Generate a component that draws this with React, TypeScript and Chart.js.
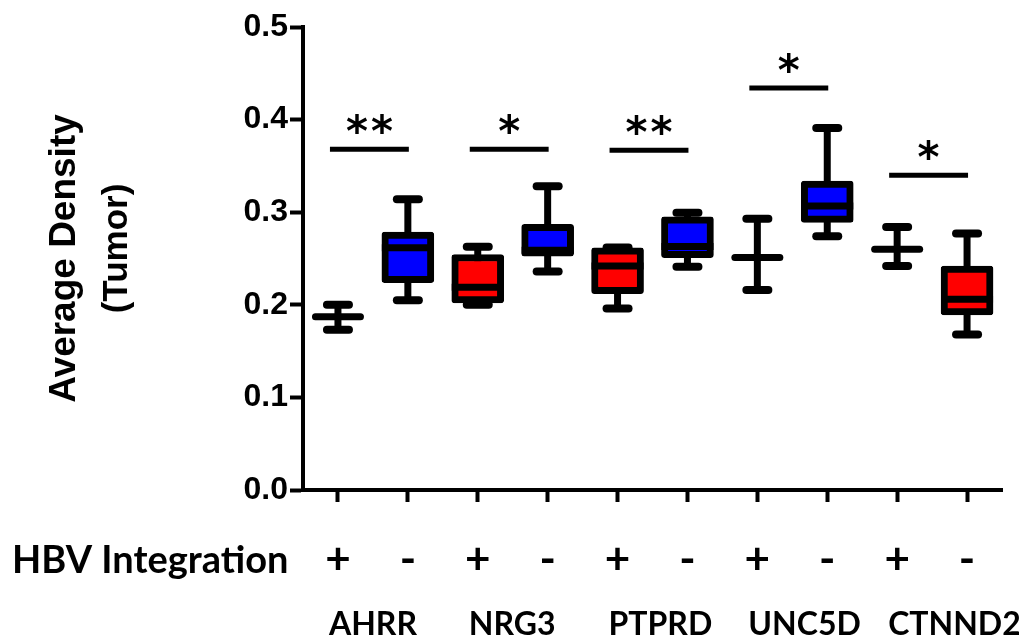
import React, { useEffect, useRef } from 'react';
import { Chart, registerables } from 'chart.js';

Chart.register(...registerables);

const genes = ['AHRR', 'NRG3', 'PTPRD', 'UNC5D', 'CTNND2'];
const integrationSigns = ['+', '-', '+', '-', '+', '-', '+', '-', '+', '-'];
const categories = ['AHRR +', 'AHRR -', 'NRG3 +', 'NRG3 -', 'PTPRD +', 'PTPRD -', 'UNC5D +', 'UNC5D -', 'CTNND2 +', 'CTNND2 -'];

const whiskerMin = [0.173, 0.205, 0.200, 0.236, 0.196, 0.241, 0.216, 0.274, 0.242, 0.168];
const boxQ1 = [0.187, 0.224, 0.202, 0.2525, 0.212, 0.251, 0.251, 0.289, 0.260, 0.189];
const medians = [0.187, 0.2615, 0.219, 0.259, 0.242, 0.263, 0.251, 0.3066, 0.260, 0.206];
const boxQ3 = [0.187, 0.2785, 0.2543, 0.2868, 0.2615, 0.2951, 0.251, 0.3337, 0.260, 0.2417];
const whiskerMax = [0.200, 0.314, 0.2626, 0.328, 0.262, 0.2995, 0.293, 0.391, 0.284, 0.277];
const boxFill = ['#FF0000', '#0000FF', '#FF0000', '#0000FF', '#FF0000', '#0000FF', '#FF0000', '#0000FF', '#FF0000', '#FF0000'];

const sigMarks = ['**', '*', '**', '*', '*'];
const sigHeights = [0.368, 0.368, 0.367, 0.434, 0.340];

const yTicks = [0, 0.1, 0.2, 0.3, 0.4, 0.5];
const yTitleLines = ['Average Density', '(Tumor)'];
const xGroupTitle = 'HBV Integration';

const BOX_W = 52;

export default function App() {
  const ref = useRef<HTMLCanvasElement>(null);

  useEffect(() => {
    const canvas = ref.current;
    if (!canvas) return;

    const boxPlugin = {
      id: 'boxWhiskers',
      beforeDatasetsDraw(chart: any) {
        const { ctx, scales } = chart;
        const x = scales.x;
        const y = scales.y;
        ctx.save();
        ctx.strokeStyle = '#000';
        for (let i = 0; i < categories.length; i++) {
          const cx = x.getPixelForValue(i);
          const yMax = y.getPixelForValue(whiskerMax[i]);
          const yMin = y.getPixelForValue(whiskerMin[i]);
          ctx.lineWidth = 7;
          ctx.lineCap = 'butt';
          ctx.beginPath();
          ctx.moveTo(cx, yMax);
          ctx.lineTo(cx, yMin);
          ctx.stroke();
          ctx.lineWidth = 8;
          ctx.lineCap = 'round';
          for (const yy of [yMax, yMin]) {
            ctx.beginPath();
            ctx.moveTo(cx - 11, yy);
            ctx.lineTo(cx + 11, yy);
            ctx.stroke();
          }
        }
        ctx.restore();
      },
      afterDatasetsDraw(chart: any) {
        const { ctx, scales } = chart;
        const x = scales.x;
        const y = scales.y;
        ctx.save();
        ctx.strokeStyle = '#000';
        ctx.fillStyle = '#000';
        for (let i = 0; i < categories.length; i++) {
          const cx = x.getPixelForValue(i);
          const ym = y.getPixelForValue(medians[i]);
          const hasBox = boxQ1[i] !== boxQ3[i];
          ctx.lineWidth = 7;
          ctx.beginPath();
          if (hasBox) {
            ctx.lineCap = 'butt';
            ctx.moveTo(cx - BOX_W / 2, ym);
            ctx.lineTo(cx + BOX_W / 2, ym);
          } else {
            ctx.lineCap = 'round';
            ctx.moveTo(cx - BOX_W / 2 + 3.5, ym);
            ctx.lineTo(cx + BOX_W / 2 - 3.5, ym);
          }
          ctx.stroke();
        }
        ctx.font = 'bold 42px "DejaVu Sans"';
        ctx.textAlign = 'center';
        ctx.textBaseline = 'alphabetic';
        const m = ctx.measureText('*');
        const baseOff = (m.actualBoundingBoxAscent - m.actualBoundingBoxDescent) / 2;
        for (let g = 0; g < genes.length; g++) {
          const x1 = x.getPixelForValue(2 * g) - 8;
          const x2 = x.getPixelForValue(2 * g + 1) + 1;
          const ys = y.getPixelForValue(sigHeights[g]);
          ctx.lineWidth = 5;
          ctx.lineCap = 'butt';
          ctx.beginPath();
          ctx.moveTo(x1, ys);
          ctx.lineTo(x2, ys);
          ctx.stroke();
          const n = sigMarks[g].length;
          const mid = (x1 + x2) / 2;
          for (let k = 0; k < n; k++) {
            const ax = mid + (k - (n - 1) / 2) * 25;
            ctx.fillText('*', ax, ys - 25 + baseOff);
          }
        }
        ctx.restore();
      },
      afterDraw(chart: any) {
        const { ctx, scales, chartArea } = chart;
        const x = scales.x;
        ctx.save();
        ctx.fillStyle = '#000';
        ctx.font = 'bold 32px Lato';
        ctx.textAlign = 'left';
        ctx.textBaseline = 'alphabetic';
        for (let g = 0; g < genes.length; g++) {
          const px = x.getPixelForValue(2 * g) - 9;
          ctx.fillText(genes[g], px, chartArea.bottom + 145);
        }
        ctx.font = 'bold 38px Lato';
        ctx.fillText(xGroupTitle, 12, chartArea.bottom + 83, 280);
        const cy = (chartArea.top + chartArea.bottom) / 2;
        ctx.textAlign = 'center';
        ctx.textBaseline = 'middle';
        ctx.save();
        ctx.translate(65, cy);
        ctx.rotate(-Math.PI / 2);
        ctx.font = 'bold 37px "Liberation Sans"';
        ctx.fillText(yTitleLines[0], 0, 0);
        ctx.restore();
        ctx.save();
        ctx.translate(117, cy - 10);
        ctx.rotate(-Math.PI / 2);
        ctx.font = 'bold 35px "Liberation Sans"';
        ctx.fillText(yTitleLines[1], 0, 0);
        ctx.restore();
        ctx.restore();
      },
    };

    const chart = new Chart(canvas, {
      type: 'bar',
      data: {
        labels: categories,
        datasets: [
          {
            data: boxQ1.map((q, i) => (q === boxQ3[i] ? null : [q, boxQ3[i]])) as any,
            backgroundColor: boxFill,
            borderColor: '#000',
            borderWidth: 7,
            borderSkipped: false,
            borderRadius: 3,
            barThickness: BOX_W,
          },
        ],
      },
      options: {
        animation: false,
        responsive: false,
        layout: { padding: { top: 27, right: 17, left: 0, bottom: 0 } },
        plugins: {
          legend: { display: false },
          tooltip: { enabled: false },
        },
        scales: {
          x: {
            type: 'category',
            offset: true,
            grid: {
              display: true,
              drawOnChartArea: false,
              drawTicks: true,
              tickLength: 12,
              tickWidth: 4,
              tickColor: '#000',
              offset: false,
            },
            border: { display: true, color: '#000', width: 4 },
            ticks: {
              color: '#000',
              font: { family: 'Lato', weight: 'bold', size: 44 },
              padding: 31,
              maxRotation: 0,
              autoSkip: false,
              callback: (_v: any, i: number) => integrationSigns[i],
            },
            afterFit: (s: any) => {
              s.height = 149;
            },
          },
          y: {
            min: 0,
            max: 0.5,
            afterBuildTicks: (s: any) => {
              s.ticks = yTicks.map((v) => ({ value: v }));
            },
            grid: {
              display: true,
              drawOnChartArea: false,
              drawTicks: true,
              tickLength: 13,
              tickWidth: 4,
              tickColor: '#000',
            },
            border: { display: true, color: '#000', width: 4 },
            ticks: {
              color: '#000',
              font: { family: 'Liberation Sans', weight: 'bold', size: 32 },
              padding: 2,
              callback: (v: any) => Number(v).toFixed(1),
            },
            afterFit: (s: any) => {
              s.width = 303;
            },
          },
        },
      } as any,
      plugins: [boxPlugin],
    });

    return () => {
      chart.destroy();
    };
  }, []);

  return (
    <div style={{ position: 'fixed', left: 0, top: 0, width: 1019, height: 639, background: '#fff' }}>
      <canvas ref={ref} width={1019} height={639} style={{ display: 'block' }} />
    </div>
  );
}
